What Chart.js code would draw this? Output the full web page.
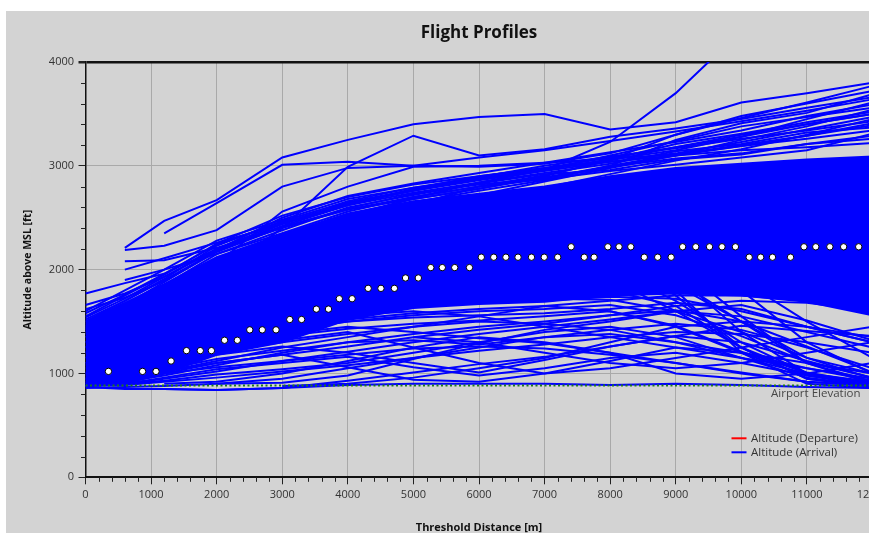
<!DOCTYPE html>
<html>
<head>
<meta charset="utf-8">
<script src="https://cdn.jsdelivr.net/npm/chart.js@4.4.0/dist/chart.umd.min.js"></script>
<style>
  html, body { margin: 0; padding: 0; overflow: hidden; background: #ffffff; width: 869px; height: 533px; }
  #panel { position: absolute; left: 6px; top: 11px; width: 900px; height: 530px; background: #d3d3d3; }
  canvas { display: block; }
</style>
</head>
<body>
<div id="panel"><canvas id="profiles" width="900" height="530"></canvas></div>
<script>
// Threshold distance samples [m] shared by the arrival profiles
const distances = [0, 600, 1200, 2000, 3000, 4000, 5000, 6000, 7000, 8000, 9000, 10000, 11000, 12000];

// Dense bulk of arrivals: lower and upper edge of the overlapping traces [ft]
const bulkLower = [880, 900, 1000, 1180, 1300, 1520, 1630, 1670, 1690, 1750, 1770, 1750, 1690, 1560];
const bulkUpper = [1500, 1680, 1860, 2120, 2340, 2540, 2660, 2730, 2800, 2900, 2980, 3020, 3060, 3090];

// Arrivals flying above the bulk [ft]
const highArrivals = [
  [null, 2210, 2470, 2670, 3080, 3250, 3400, 3470, 3500, 3350, 3420, 3610, 3700, 3800],
  [null, null, 2350, 2640, 3010, 3040, 3000, 3080, 3150, 3240, 3330, 3430, 3530, 3640],
  [null, 2190, 2230, 2380, 2800, 2980, 3000, 2990, 3020, 3120, 3300, 3480, 3600, 3720],
  [1460, 1640, 1820, 2080, 2320, 2500, 2690, 2840, 2960, 3230, 3700, 4300, null, null],
  [null, 2000, 2110, 2260, 2440, 2630, 2760, 2880, 2960, 3060, 3210, 3310, 3420, 3520],
  [null, 2080, 2090, 2210, 2410, 2580, 2680, 2780, 2890, 2990, 3100, 3190, 3290, 3390],
  [1770, 1870, 1960, 2240, 2460, 2660, 2790, 2890, 3000, 3090, 3170, 3260, 3340, 3430],
  [1660, 1770, 1930, 2190, 2500, 2710, 2830, 2930, 3030, 3130, 3230, 3340, 3480, 3590],
  [1620, 1730, 1890, 2170, 2410, 2590, 2730, 2820, 2880, 2990, 3070, 3120, 3210, 3290],
  [1400, 1600, 1800, 2060, 2560, 2800, 2990, 3000, 3030, 3070, 3110, 3190, 3260, 3340],
  [1450, 1620, 1820, 2100, 2330, 2530, 2680, 2780, 2900, 3060, 3300, 3460, 3610, 3770],
  [1430, 1600, 1790, 2060, 2300, 2500, 2650, 2760, 2860, 3000, 3250, 3410, 3510, 3690],
  [1350, 1500, 1700, 1950, 2400, 2990, 3290, 3100, 3160, 3280, 3360, 3450, 3560, 3660],
  [1420, 1600, 1780, 2050, 2290, 2480, 2620, 2800, 2910, 3050, 3180, 3300, 3400, 3500],
  [1400, 1580, 1760, 2030, 2270, 2470, 2610, 2720, 2850, 2980, 3100, 3250, 3380, 3540],
  [1380, 1560, 1740, 2010, 2260, 2460, 2600, 2710, 2790, 2920, 3050, 3160, 3300, 3450],
  [1440, 1640, 1850, 2150, 2380, 2600, 2720, 2830, 2920, 2960, 3060, 3110, 3210, 3260],
  [1520, 1700, 1900, 2180, 2420, 2620, 2740, 2840, 2930, 3020, 3140, 3210, 3320, 3370],
  [1580, 1760, 1960, 2200, 2450, 2640, 2760, 2860, 2950, 3040, 3100, 3150, 3180, 3220],
  [1550, 1750, 1950, 2250, 2520, 2700, 2820, 2900, 2980, 3080, 3180, 3280, 3400, 3500],
  [1600, 1800, 2000, 2280, 2480, 2680, 2790, 2870, 2960, 3100, 3240, 3380, 3470, 3560],
  [1480, 1660, 1880, 2180, 2440, 2620, 2780, 2900, 2980, 3040, 3120, 3230, 3350, 3470],
  [1500, 1700, 1910, 2230, 2470, 2650, 2770, 2880, 2970, 3060, 3150, 3280, 3450, 3610],
  [1540, 1720, 1930, 2200, 2400, 2580, 2700, 2800, 2880, 3000, 3110, 3200, 3290, 3410],
  [null, 1900, 2000, 2150, 2350, 2560, 2700, 2800, 2870, 2950, 3010, 3080, 3150, 3310]
];

// Arrivals flying below the bulk [ft]
const lowArrivals = [
  [870, 850, 850, 840, 860, 890, 900, 900, 900, 890, 900, 890, 870, 860],
  [900, 960, 1020, 1100, 1180, 1060, 940, 920, 1000, 1120, 1250, 1200, 1050, 930],
  [920, 990, 1080, 1180, 1260, 1200, 1100, 1010, 1130, 1260, 1360, 1300, 1120, 960],
  [950, 1010, 1110, 1250, 1360, 1430, 1480, 1510, 1550, 1600, 1460, 1210, 1010, 900],
  [900, 920, 980, 1080, 1200, 1300, 1380, 1450, 1500, 1560, 1610, 1500, 1260, 1010],
  [880, 900, 930, 990, 1040, 1100, 1200, 1300, 1400, 1450, 1350, 1150, 960, 880],
  [1000, 1060, 1160, 1300, 1410, 1500, 1560, 1600, 1620, 1660, 1560, 1360, 1110, 960],
  [null, null, null, 900, 910, 980, 1140, 1290, 1420, 1500, 1600, 1660, 1510, 1320],
  [null, null, 850, 840, 860, 930, 1010, 1090, 1160, 1260, 1360, 1460, 1410, 1360],
  [960, 1020, 1120, 1250, 1380, 1450, 1400, 1340, 1290, 1200, 1100, 1010, 920, 880],
  [1050, 1110, 1210, 1350, 1480, 1560, 1600, 1550, 1450, 1350, 1250, 1150, 1050, 950],
  [1100, 1200, 1330, 1460, 1560, 1620, 1660, 1700, 1720, 1710, 1600, 1400, 1150, 1000],
  [880, 920, 1000, 1100, 1180, 1260, 1350, 1420, 1480, 1560, 1650, 1700, 1680, 1600],
  [null, 900, 950, 1020, 1120, 1210, 1300, 1380, 1450, 1520, 1600, 1550, 1400, 1250],
  [1300, 1450, 1600, 1800, 2000, 2150, 2200, 2250, 2200, 2000, 1700, 1300, 1000, 900],
  [1200, 1380, 1550, 1750, 1950, 2100, 2200, 2300, 2350, 2200, 1900, 1500, 1150, 950],
  [1250, 1400, 1580, 1800, 2000, 2150, 2300, 2400, 2450, 2400, 2200, 1800, 1300, 1000],
  [1150, 1300, 1450, 1600, 1750, 1850, 1950, 2050, 2100, 2050, 1850, 1500, 1100, 900],
  [1000, 1100, 1250, 1400, 1500, 1600, 1700, 1750, 1800, 1800, 1650, 1250, 950, 870],
  [900, 940, 1020, 1120, 1250, 1350, 1450, 1550, 1650, 1700, 1750, 1750, 1700, 1650],
  [1350, 1500, 1650, 1900, 2100, 2300, 2400, 2450, 2500, 2350, 1950, 1400, 1000, 880],
  [1100, 1250, 1400, 1600, 1800, 1950, 2050, 2100, 2150, 2100, 1800, 1200, 900, 860],
  [950, 1000, 1080, 1200, 1320, 1400, 1250, 1100, 1000, 1050, 1150, 1250, 1350, 1450],
  [null, null, 900, 920, 1000, 1120, 1250, 1350, 1300, 1200, 1000, 950, 1000, 1100],
  [880, 890, 920, 960, 1020, 1080, 1150, 1220, 1280, 1350, 1400, 1380, 1300, 1200],
  [900, 930, 1000, 1060, 1120, 1180, 1240, 1260, 1240, 1180, 1100, 1000, 920, 880],
  [920, 960, 1040, 1140, 1220, 1300, 1320, 1280, 1350, 1420, 1480, 1420, 1250, 1050],
  [880, 900, 960, 1040, 1100, 1160, 1060, 980, 1050, 1150, 1200, 1100, 980, 900],
  [940, 1000, 1090, 1210, 1300, 1380, 1450, 1500, 1480, 1420, 1300, 1150, 1000, 920],
  [980, 1050, 1140, 1280, 1420, 1500, 1540, 1560, 1580, 1620, 1680, 1620, 1450, 1300],
  [null, null, null, null, 880, 900, 960, 1050, 1150, 1300, 1450, 1500, 1450, 1300],
  [1010, 1080, 1180, 1320, 1440, 1520, 1580, 1620, 1650, 1600, 1450, 1200, 980, 880],
  [1150, 1300, 1460, 1660, 1850, 2000, 2100, 2150, 2100, 1900, 1600, 1250, 1000, 900],
  [1300, 1450, 1600, 1820, 2050, 2250, 2350, 2400, 2350, 2150, 1750, 1250, 950, 880],
  [1250, 1420, 1600, 1850, 2080, 2280, 2420, 2520, 2550, 2450, 2050, 1550, 1100, 920],
  [1200, 1350, 1500, 1700, 1900, 2050, 2150, 2200, 2250, 2250, 2150, 1900, 1500, 1150],
  [860, 870, 880, 900, 950, 1050, 1150, 1250, 1350, 1380, 1300, 1200, 1100, 1000],
  [null, null, null, null, null, null, 1350, 1300, 1200, 1100, 1050, 1100, 1200, 1300],
  [1080, 1150, 1260, 1400, 1500, 1580, 1640, 1680, 1700, 1740, 1720, 1600, 1450, 1350]
];

// Reference procedure altitude checkpoints
const checkpointDistance = [350, 870, 1075, 1305, 1540, 1750, 1920, 2120, 2315, 2505, 2695, 2905, 3115, 3295, 3520, 3705, 3870, 4065, 4310, 4505, 4710, 4880, 5075, 5265, 5440, 5630, 5855, 6035, 6225, 6410, 6595, 6800, 6995, 7200, 7405, 7605, 7755, 7965, 8135, 8315, 8520, 8725, 8930, 9105, 9305, 9515, 9705, 9910, 10120, 10295, 10475, 10750, 10955, 11135, 11350, 11560, 11790];
const checkpointAltitude = [1020, 1020, 1020, 1120, 1220, 1220, 1220, 1320, 1320, 1420, 1420, 1420, 1520, 1520, 1620, 1620, 1720, 1720, 1820, 1820, 1820, 1920, 1920, 2020, 2020, 2020, 2020, 2120, 2120, 2120, 2120, 2120, 2120, 2120, 2220, 2120, 2120, 2220, 2220, 2220, 2120, 2120, 2120, 2220, 2220, 2220, 2220, 2220, 2120, 2120, 2120, 2120, 2220, 2220, 2220, 2220, 2220];

const airportElevation = 885;
const elevationLabel = 'Airport Elevation';
const chartTitle = 'Flight Profiles';
const xTitle = 'Threshold Distance [m]';
const yTitle = 'Altitude above MSL [ft]';
const legendLabels = ['Altitude (Departure)', 'Altitude (Arrival)'];
const legendColors = ['#ff0000', '#0000ff'];

const ARRIVAL_BLUE = '#0000ff';
Chart.defaults.font.family = '"Open Sans", "DejaVu Sans", sans-serif';

const toPoints = row => distances.map((d, i) => ({ x: d, y: row[i] }));
const arrivalLine = row => ({
  data: toPoints(row), borderColor: ARRIVAL_BLUE, borderWidth: 2,
  pointRadius: 0, fill: false, tension: 0, order: 2
});

const datasets = [
  {
    data: checkpointDistance.map((d, i) => ({ x: d, y: checkpointAltitude[i] })),
    showLine: false, pointRadius: 3.2, pointBorderWidth: 1,
    pointBackgroundColor: '#ffffff', pointBorderColor: '#000000', order: 0
  },
  {
    data: [{ x: 0, y: airportElevation }, { x: 12000, y: airportElevation }],
    borderColor: '#1d7a1d', borderWidth: 2, borderDash: [2, 2.5], pointRadius: 0, order: 1
  },
  { data: toPoints(bulkLower), borderColor: ARRIVAL_BLUE, borderWidth: 2, pointRadius: 0, fill: false, order: 3 },
  { data: toPoints(bulkUpper), borderColor: ARRIVAL_BLUE, borderWidth: 2, pointRadius: 0,
    fill: { target: 2 }, backgroundColor: ARRIVAL_BLUE, order: 3 },
  ...highArrivals.map(arrivalLine),
  ...lowArrivals.map(arrivalLine)
];

// Minor tick marks, elevation caption and the in-plot legend
const decorations = {
  id: 'decorations',
  afterDraw(chart) {
    const { ctx, chartArea: a, scales: { x, y } } = chart;
    ctx.save();
    ctx.strokeStyle = '#222';
    ctx.lineWidth = 1;
    ctx.beginPath();
    for (let v = 200; v <= 12000; v += 200) {
      if (v % 1000 === 0) continue;
      const px = Math.round(x.getPixelForValue(v)) + 0.5;
      ctx.moveTo(px, a.bottom);
      ctx.lineTo(px, a.bottom + 4.5);
    }
    for (let v = 200; v <= 4000; v += 200) {
      if (v % 1000 === 0) continue;
      const py = Math.round(y.getPixelForValue(v)) + 0.5;
      ctx.moveTo(a.left - 4.5, py);
      ctx.lineTo(a.left, py);
    }
    ctx.stroke();

    ctx.font = '11.5px "Open Sans"';
    ctx.fillStyle = '#474747';
    ctx.textAlign = 'right';
    ctx.textBaseline = 'middle';
    ctx.fillText(elevationLabel, a.right - 12, y.getPixelForValue(airportElevation) + 8);

    ctx.textAlign = 'left';
    ctx.fillStyle = '#333';
    legendLabels.forEach((label, i) => {
      const ly = a.bottom - 39 + i * 14;
      ctx.strokeStyle = legendColors[i];
      ctx.lineWidth = 2;
      ctx.beginPath();
      ctx.moveTo(a.right - 141, ly);
      ctx.lineTo(a.right - 126, ly);
      ctx.stroke();
      ctx.fillText(label, a.right - 121.5, ly);
    });
    ctx.restore();
  }
};

new Chart(document.getElementById('profiles'), {
  type: 'line',
  data: { datasets },
  plugins: [decorations],
  options: {
    responsive: false,
    animation: false,
    events: [],
    layout: { padding: { left: 0, right: 33.5, top: 0, bottom: 0 } },
    plugins: {
      legend: { display: false },
      tooltip: { enabled: false },
      title: {
        display: true, text: chartTitle, fullSize: false, color: '#111',
        font: { size: 17, weight: 'bold' }, padding: { top: 11.5, bottom: 19.1 }
      }
    },
    scales: {
      x: {
        type: 'linear', min: 0, max: 12000,
        afterFit: s => { s.height = 63.7; },
        ticks: { stepSize: 1000, color: '#333', font: { size: 11 }, padding: 4, maxRotation: 0, callback: v => String(v) },
        grid: { color: '#a9a9a9', lineWidth: 1, tickLength: 7, tickColor: '#222' },
        border: { color: '#111', width: 2 },
        title: { display: true, text: xTitle, color: '#111', font: { size: 11, weight: 'bold' }, padding: { top: 4, bottom: 6.4 } }
      },
      y: {
        min: 0, max: 4000,
        afterFit: s => { s.width = 79.5; },
        ticks: { stepSize: 1000, color: '#333', font: { size: 11 }, padding: 4.5, callback: v => String(v) },
        grid: {
          color: c => (c.tick && c.tick.value === 4000) ? '#111' : '#a9a9a9',
          lineWidth: c => (c.tick && c.tick.value === 4000) ? 2.5 : 1,
          tickLength: 7, tickColor: '#222'
        },
        border: { color: '#111', width: 1.5 },
        title: { display: true, text: yTitle, color: '#111', font: { size: 10.5, weight: 'bold' }, padding: { top: 15.7, bottom: 4 } }
      }
    }
  }
});
</script>
</body>
</html>
